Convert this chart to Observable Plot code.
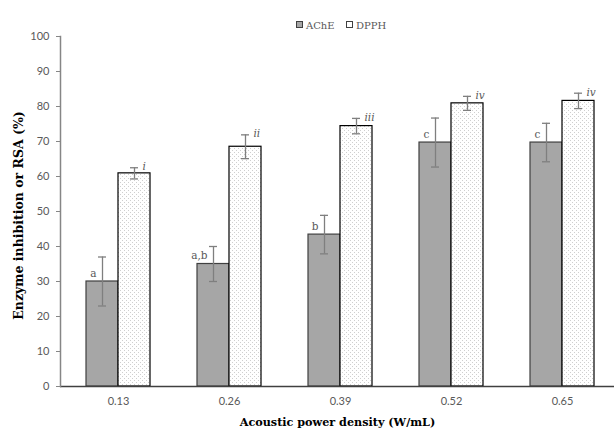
<!DOCTYPE html>
<html><head><meta charset="utf-8">
<script src="https://cdn.jsdelivr.net/npm/d3@7"></script>
<script src="https://cdn.jsdelivr.net/npm/@observablehq/plot@0.6"></script>
<style>
body{margin:0;background:#fff;width:614px;height:430px;overflow:hidden;}
#legend{position:relative;height:30px;font-family:"DejaVu Serif",serif;font-size:10px;color:#595959;}
.li{position:absolute;top:20px;line-height:12px;white-space:nowrap;}
.sw{display:inline-block;width:5px;height:5px;border:1px solid #404040;vertical-align:1px;margin-right:3px;}
#chart svg{display:block;}
</style></head><body>
<div id="legend">
  <span class="li" style="left:296px"><span class="sw" style="background:#a6a6a6"></span>AChE</span>
  <span class="li" style="left:346px"><span class="sw" style="background:#fff;border-color:#404040"></span>DPPH</span>
</div>
<div id="chart"></div>
<script>
const categories = ["0.13", "0.26", "0.39", "0.52", "0.65"];
const seriesNames = ["AChE", "DPPH"];
const acheValues = [30, 35, 43.4, 69.7, 69.7];
const acheErrors = [7, 5, 5.5, 7, 5.5];
const dpphValues = [60.9, 68.5, 74.4, 80.9, 81.6];
const dpphErrors = [1.6, 3.4, 2.2, 2, 2.2];
const acheLetters = ["a", "a,b", "b", "c", "c"];
const dpphLetters = ["i", "ii", "iii", "iv", "iv"];
const yTicks = [0, 10, 20, 30, 40, 50, 60, 70, 80, 90, 100];
const xTitle = "Acoustic power density (W/mL)";
const yTitle = "Enzyme inhibition or RSA (%)";

const rows = categories.map((c, i) => ({
  cat: c,
  ache: acheValues[i], acheErr: acheErrors[i], acheLetter: acheLetters[i],
  dpph: dpphValues[i], dpphErr: dpphErrors[i], dpphLetter: dpphLetters[i]
}));

const xOpts = {type: "band", domain: categories, range: [61, 618.5], paddingInner: 0.426, paddingOuter: 0.213};
const bw = Plot.scale({x: xOpts}).bandwidth;
const half = bw / 2, q = bw / 4, cap = 4;
const errColor = "#7f7f7f";
const serif = "DejaVu Serif, serif";

const plot = Plot.plot({
  width: 614, height: 400,
  marginTop: 6, marginBottom: 44, marginLeft: 60, marginRight: 0,
  style: {fontFamily: "Lato, sans-serif", fontSize: "11px", color: "#595959", background: "#fff"},
  x: {...xOpts, label: null},
  y: {domain: [0, 100], label: null},
  marks: [
    Plot.barY(rows, {x: "cat", y: "ache", insetRight: half, fill: "#a6a6a6", stroke: "#404040", strokeWidth: 1.2}),
    Plot.barY(rows, {x: "cat", y: "dpph", insetLeft: half, fill: "url(#dots)", stroke: "#000", strokeWidth: 1.2}),
    Plot.ruleX(rows, {x: "cat", y1: d => d.ache - d.acheErr, y2: d => d.ache + d.acheErr, dx: -q, stroke: errColor, strokeWidth: 1.3}),
    Plot.tickY(rows, {x: "cat", y: d => d.ache + d.acheErr, insetLeft: q - cap, insetRight: 3 * q - cap, stroke: errColor, strokeWidth: 1.3}),
    Plot.tickY(rows, {x: "cat", y: d => d.ache - d.acheErr, insetLeft: q - cap, insetRight: 3 * q - cap, stroke: errColor, strokeWidth: 1.3}),
    Plot.ruleX(rows, {x: "cat", y1: d => d.dpph - d.dpphErr, y2: d => d.dpph + d.dpphErr, dx: q, stroke: errColor, strokeWidth: 1.3}),
    Plot.tickY(rows, {x: "cat", y: d => d.dpph + d.dpphErr, insetLeft: 3 * q - cap, insetRight: q - cap, stroke: errColor, strokeWidth: 1.3}),
    Plot.tickY(rows, {x: "cat", y: d => d.dpph - d.dpphErr, insetLeft: 3 * q - cap, insetRight: q - cap, stroke: errColor, strokeWidth: 1.3}),
    Plot.text(rows, {x: "cat", y: "ache", text: "acheLetter", dx: -q - 6, dy: -8, textAnchor: "end", fontFamily: serif, fontSize: 10.5, fill: "#595959"}),
    Plot.text(rows, {x: "cat", y: d => d.dpph + d.dpphErr, text: "dpphLetter", dx: q + 8, dy: -1, textAnchor: "start", fontFamily: serif, fontStyle: "italic", fontSize: 10.5, fill: "#595959"}),
    Plot.ruleY([0], {stroke: "#404040", strokeWidth: 1.3}),
    Plot.frame({anchor: "left", stroke: "#868686", strokeWidth: 1.5}),
    Plot.axisY({ticks: yTicks, tickSize: 4, tickPadding: 7, stroke: "#868686", fill: "#595959", label: null}),
    Plot.axisX({tickSize: 0, tickPadding: 11, fill: "#595959", label: null}),
    Plot.text([xTitle], {frameAnchor: "bottom", dy: 36, lineAnchor: "middle", textAnchor: "middle", fontFamily: serif, fontWeight: "bold", fontSize: 11.2, fill: "#000"}),
    Plot.text([yTitle], {frameAnchor: "left", rotate: -90, dx: -42, dy: 4, textAnchor: "middle", lineAnchor: "middle", fontFamily: serif, fontWeight: "bold", fontSize: 12.5, fill: "#000"})
  ]
});

const ns = "http://www.w3.org/2000/svg";
const defs = document.createElementNS(ns, "defs");
defs.innerHTML = '<pattern id="dots" width="4" height="4" patternUnits="userSpaceOnUse">' +
  '<rect width="4" height="4" fill="#fff"/>' +
  '<rect x="0" y="0" width="1" height="1" fill="#cfcfcf"/>' +
  '<rect x="2" y="2" width="1" height="1" fill="#cfcfcf"/></pattern>';
plot.insertBefore(defs, plot.firstChild);
document.getElementById("chart").appendChild(plot);

const sw = document.querySelectorAll(".sw")[1];
sw.style.backgroundImage = "radial-gradient(#c8c8c8 0.5px, transparent 0.6px)";
sw.style.backgroundSize = "2px 2px";
</script>
</body></html>
